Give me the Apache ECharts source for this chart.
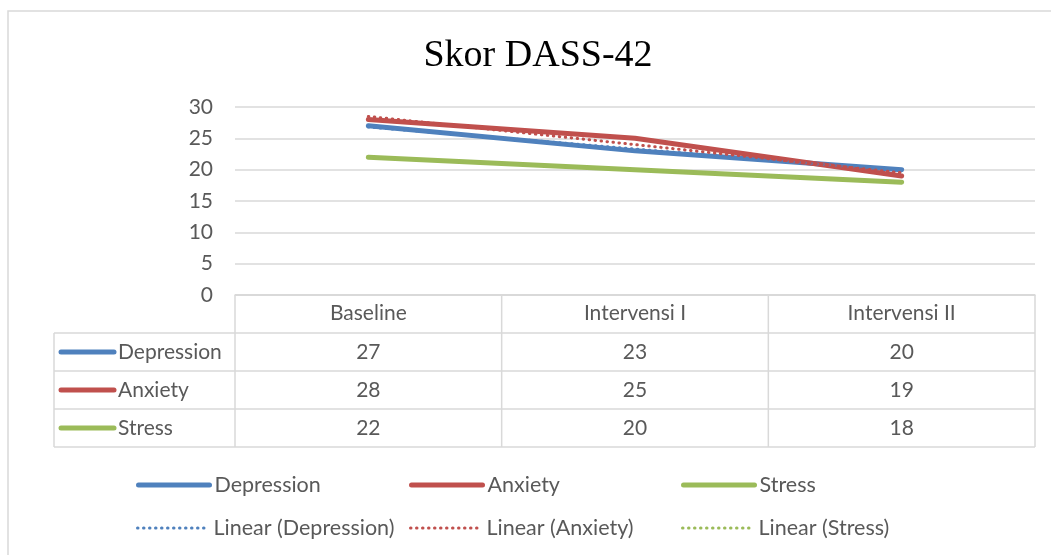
<!DOCTYPE html>
<html>
<head>
<meta charset="utf-8">
<title>Skor DASS-42</title>
<script src="https://cdn.jsdelivr.net/npm/echarts@6/dist/echarts.min.js"></script>
<style>
  html, body { margin: 0; padding: 0; background: #fff; }
  #main { width: 1051px; height: 555px; }
</style>
</head>
<body>
<div id="main"></div>
<script>
// data
const categories = ["Baseline", "Intervensi I", "Intervensi II"];
const seriesNames = ["Depression", "Anxiety", "Stress"];
const depression = [27, 23, 20];
const anxiety = [28, 25, 19];
const stress = [22, 20, 18];
// linear trend lines (estimated from the dotted lines)
const depressionTrend = [26.8, 23.3, 19.8];
const anxietyTrend = [28.5, 24, 19.5];
const stressTrend = [22, 20, 18];
const yTicks = { min: 0, max: 30, interval: 5 };

const colors = ["#4F81BD", "#C0504D", "#9BBB59"];
const textColor = "#595959";
const gridColor = "#d9d9d9";
const font = "Lato";
const fs = 21;

// layout
const plotLeft = 235, plotRight = 1035;
const colW = (plotRight - plotLeft) / categories.length;
const tableLeft = 54;
const rowLines = [295, 333, 371, 409, 447];
const dots = [0.5, 5.5];

const chart = echarts.init(document.getElementById("main"));

const lineData = [depression, anxiety, stress];
const trendData = [depressionTrend, anxietyTrend, stressTrend];

let series = [];
lineData.forEach((d, i) => {
  series.push({
    name: seriesNames[i],
    type: "line",
    data: d,
    symbol: "none",
    z: 3,
    lineStyle: { color: colors[i], width: 5, cap: "round", join: "round" },
    itemStyle: { color: colors[i] },
  });
});
trendData.forEach((d, i) => {
  series.push({
    name: "Linear (" + seriesNames[i] + ")",
    type: "line",
    data: d,
    symbol: "none",
    z: 4,
    lineStyle: { color: colors[i], width: 3, type: dots, cap: "round" },
    itemStyle: { color: colors[i] },
  });
});

// legends, one per item so they sit in columns
const legendCols = [136, 409, 681];
const legendRows = [474, 517];
let legends = [];
series.forEach((s, k) => {
  const trend = k >= 3;
  legends.push({
    data: [s.name],
    left: legendCols[k % 3],
    top: legendRows[Math.floor(k / 3)],
    padding: 0,
    itemWidth: 71,
    itemHeight: 22,
    itemGap: 5,
    itemStyle: { opacity: 0 },
    lineStyle: trend
      ? { width: 3, type: dots, cap: "round" }
      : { width: 5, type: "solid", cap: "round" },
    textStyle: { color: textColor, fontSize: fs + 0.5, fontFamily: font },
    selectedMode: false,
  });
});

// data table drawn with graphic elements
let graphic = [];
graphic.push({
  type: "rect",
  shape: { x: 8, y: 11, width: 1100, height: 600 },
  style: { fill: "none", stroke: gridColor, lineWidth: 1.5 },
  silent: true,
});
rowLines.forEach((y, r) => {
  graphic.push({
    type: "line",
    shape: { x1: r === 0 ? plotLeft : tableLeft, y1: y, x2: plotRight, y2: y },
    style: { stroke: gridColor, lineWidth: 1.5 },
  });
});
graphic.push({
  type: "line",
  shape: { x1: tableLeft, y1: rowLines[1], x2: tableLeft, y2: rowLines[4] },
  style: { stroke: gridColor, lineWidth: 1.5 },
});
for (let c = 0; c <= categories.length; c++) {
  const x = plotLeft + c * colW;
  graphic.push({
    type: "line",
    shape: { x1: x, y1: rowLines[0], x2: x, y2: rowLines[4] },
    style: { stroke: gridColor, lineWidth: 1.5 },
  });
}
lineData.forEach((d, i) => {
  const yc = (rowLines[i + 1] + rowLines[i + 2]) / 2;
  graphic.push({
    type: "line",
    shape: { x1: 61, y1: yc, x2: 114, y2: yc },
    style: { stroke: colors[i], lineWidth: 5, lineCap: "round" },
  });
  graphic.push({
    type: "text",
    x: 118,
    y: yc,
    style: {
      text: seriesNames[i], fill: textColor, fontSize: fs, fontFamily: font,
      align: "left", verticalAlign: "middle",
    },
  });
  d.forEach((v, c) => {
    graphic.push({
      type: "text",
      x: plotLeft + (c + 0.5) * colW,
      y: yc,
      style: {
        text: String(v), fill: textColor, fontSize: fs, fontFamily: font,
        align: "center", verticalAlign: "middle",
      },
    });
  });
});

let option = {
  animation: false,
  title: {
    text: "Skor DASS-42",
    left: 533,
    top: 32,
    textAlign: "center",
    textStyle: {
      fontFamily: "Liberation Serif",
      fontWeight: "normal",
      fontSize: 38,
      color: "#000",
    },
  },
  grid: { left: plotLeft, right: 1051 - plotRight, top: 107, bottom: 555 - 295 },
  xAxis: {
    type: "category",
    data: categories,
    boundaryGap: true,
    axisTick: { show: false },
    axisLine: { lineStyle: { color: gridColor, width: 1.5 } },
    axisLabel: { color: textColor, fontSize: fs, fontFamily: font, margin: 8 },
  },
  yAxis: {
    type: "value",
    min: yTicks.min,
    max: yTicks.max,
    interval: yTicks.interval,
    axisLine: { show: false },
    axisTick: { show: false },
    axisLabel: { color: textColor, fontSize: fs, fontFamily: font, margin: 22 },
    splitLine: { lineStyle: { color: gridColor, width: 1.5 } },
  },
  legend: legends,
  series: series,
  graphic: graphic,
};

option && chart.setOption(option);
</script>
</body>
</html>
